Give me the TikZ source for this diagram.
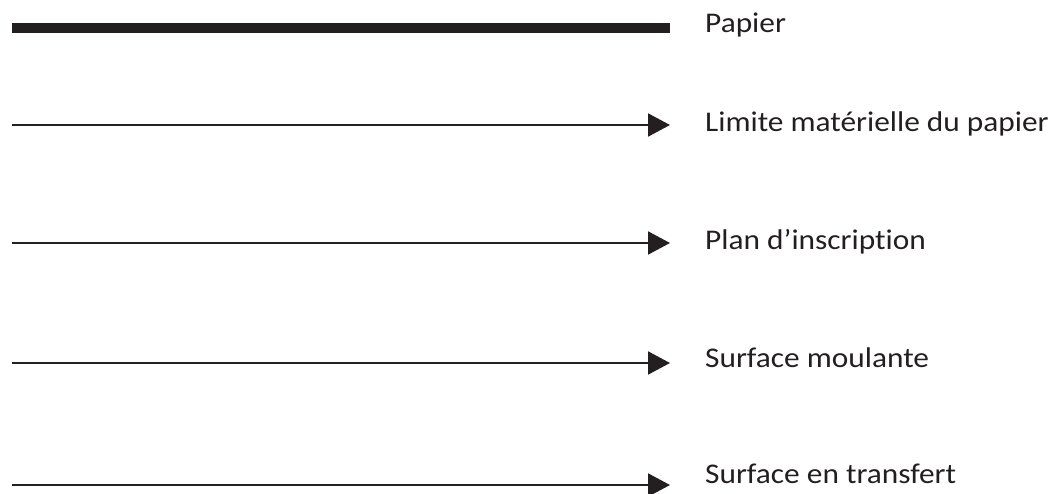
\documentclass[tikz,border=0pt]{standalone}
\usepackage{fontspec}
\setmainfont{Carlito}[FakeStretch=1.1,Ligatures={TeX,NoCommon}]
\usetikzlibrary{arrows.meta,positioning}
\definecolor{ink}{HTML}{231F20}
\tikzset{
  >={Triangle[length=22pt,width=23pt]},
  every node/.style={font=\fontsize{28.5}{34}\selectfont,text=ink},
  lbl/.style={anchor=base west,inner sep=0pt},
  paper/.style={line width=10pt,draw=ink},
  arrow/.style={->,line width=2pt,draw=ink},
}

\begin{document}
\begin{tikzpicture}[x=1pt,y=1pt]
\useasboundingbox (0,0) rectangle (1052,493);

% legend texts
\node[lbl] (papier) at (705,460) {Papier};
\node[lbl] (limite) at (705,361) {Limite matérielle du papier};
\node[lbl] (plan) at (705,243) {Plan d’inscription};
\node[lbl] (moulante) at (705,126) {Surface moulante};
\node[lbl] (transfert) at (705,10) {Surface en transfert};

% line ends
\coordinate (papier-s) at (12,465);   \coordinate (papier-e) at (670,465);
\coordinate (limite-s) at (12,368);   \coordinate (limite-e) at (670,368);
\coordinate (plan-s) at (12,250);     \coordinate (plan-e) at (670,250);
\coordinate (moulante-s) at (12,130); \coordinate (moulante-e) at (670,130);
\coordinate (transfert-s) at (12,8);  \coordinate (transfert-e) at (670,8);

\draw[paper] (papier-s) -- (papier-e);
\foreach \n in {limite,plan,moulante,transfert}{\draw[arrow] (\n-s) -- (\n-e);}

\end{tikzpicture}
\end{document}
